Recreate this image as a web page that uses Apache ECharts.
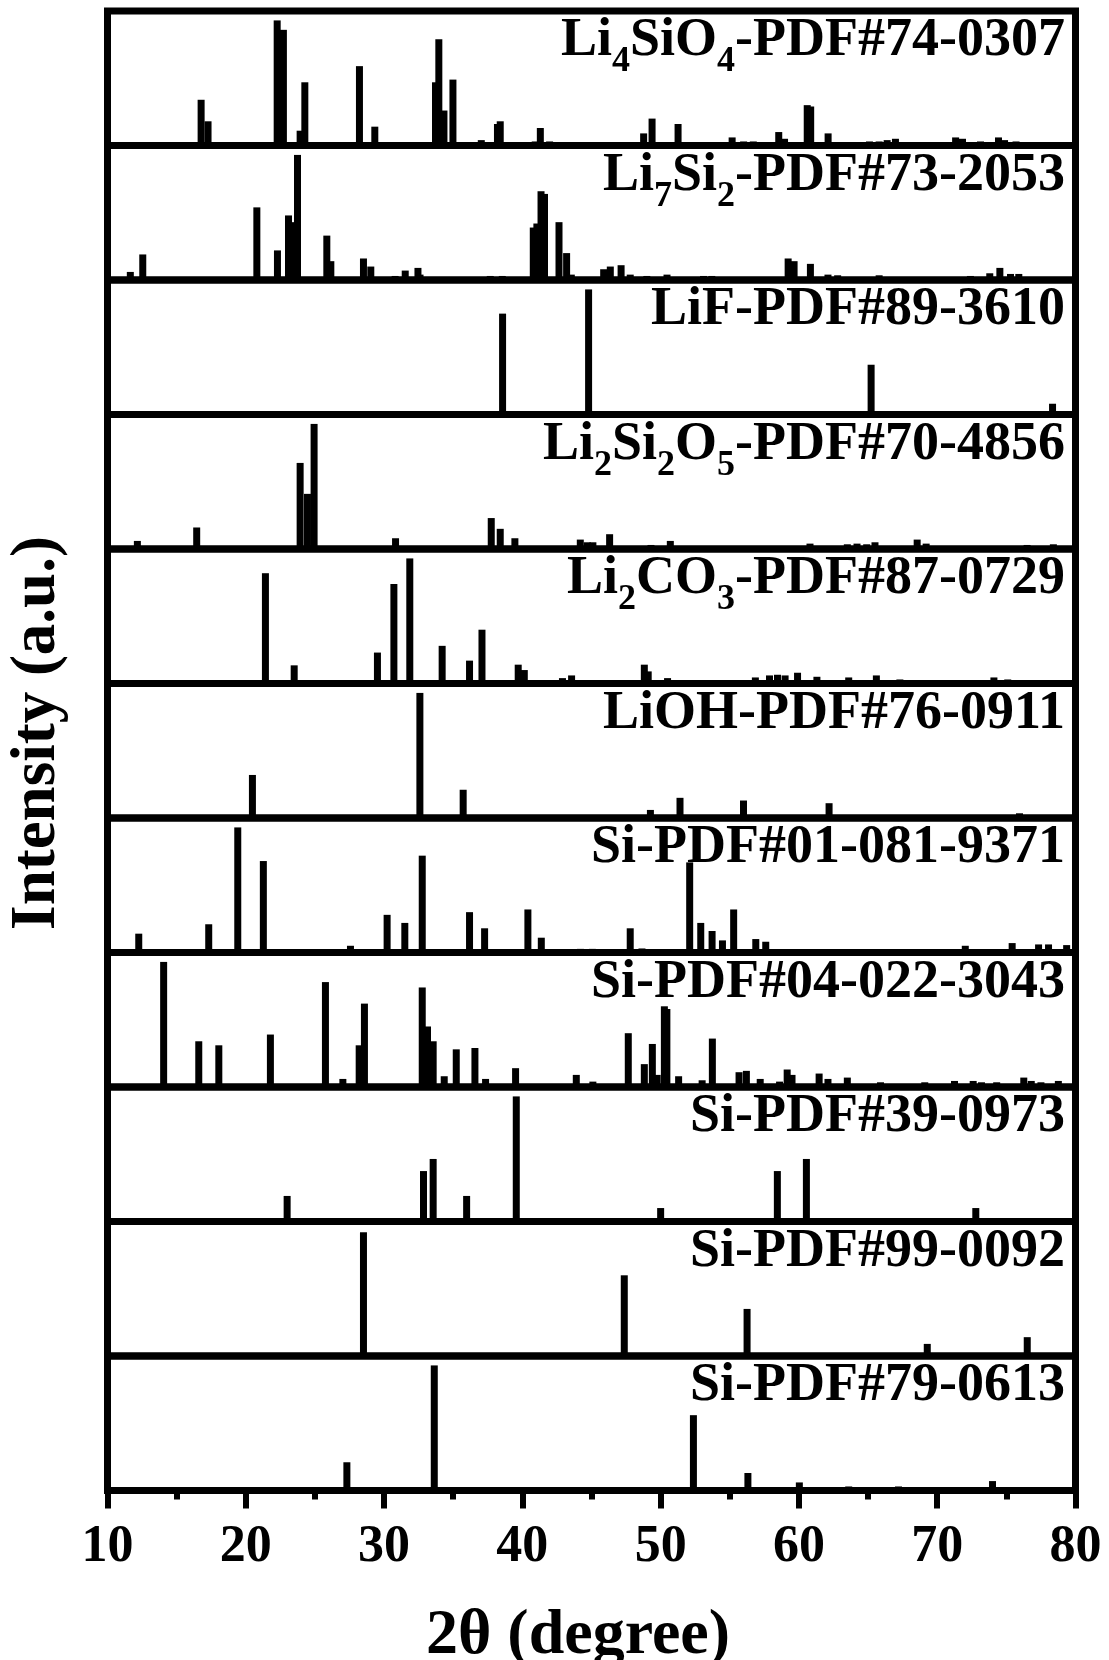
<!DOCTYPE html>
<html>
<head>
<meta charset="utf-8">
<script src="https://cdn.jsdelivr.net/npm/echarts@6/dist/echarts.min.js"></script>
<style>
  html, body { margin: 0; padding: 0; background: #fff; }
  #chart { width: 1109px; height: 1660px; }
</style>
</head>
<body>
<div id="chart"></div>
<script>
// stick patterns, [2theta, relative intensity], top panel first
const li4sio4 = [[16.77,34],[17.27,18],[22.27,93],[22.72,86],[23.93,11],[24.27,47],[28.22,59],[29.33,14],
  [33.72,47],[33.96,79],[34.33,26],[34.98,49],[37.03,4],[38.2,16],[38.4,18],[40.93,3],[41.3,13],[41.97,3],
  [48.77,9],[49.38,20],[51.26,16],[54.0,2],[55.17,6],[56.0,3],[56.7,3],[58.54,10],[58.96,5],[60.6,30],
  [60.85,29],[62.11,9],[63.5,2.5],[64.5,2.5],[65.1,3],[65.8,3],[66.38,4],[66.98,5],[71.33,6],[71.83,5],
  [73.13,3],[74.43,6],[74.87,4],[75.7,3],[78.1,2]];
const li7si2 = [[11.65,6],[12.55,19],[20.8,54],[22.29,22],[23.09,48],[23.37,43],[23.74,93],[25.86,33],
  [26.15,14],[28.51,16],[29.04,10],[30.8,3],[31.53,7],[32.45,9],[32.6,4],[35.07,2],[37.68,3],[38.55,3],
  [40.79,39],[41.05,42],[41.35,66],[41.6,64],[42.65,43],[43.2,20],[43.54,4],[45.88,8],[46.36,10],[47.14,11],
  [47.8,4],[49.0,3],[50.46,4],[53.1,3],[53.7,3],[59.22,16],[59.65,14],[60.83,12],[62.1,4],[62.8,3.5],
  [65.8,3.5],[72.4,3],[73.8,5],[74.53,9],[75.3,4.5],[75.9,4.5]];
const lif = [[38.57,75],[44.79,93],[65.22,37],[78.34,8]];
const li2si2o5 = [[12.16,6],[16.45,16],[23.93,64],[24.46,41],[24.94,93],[30.6,2],[30.83,8],[37.75,23],
  [38.4,15],[39.46,8],[44.19,7],[44.7,5],[45.1,5],[46.31,11],[49.3,3],[50.7,6],[60.8,4],[63.5,3.5],
  [64.2,4],[64.9,3.5],[65.5,5],[68.55,7],[69.2,4],[76.5,3],[78.4,3.5]];
const li2co3 = [[21.42,82],[23.5,13.5],[29.52,23],[30.71,74],[31.86,93],[34.2,28],[36.18,17],[37.08,40],
  [39.7,14],[40.14,10],[42.9,4],[43.56,6],[48.82,14],[49.1,9],[50.5,4],[56.85,4.5],[57.87,6],[58.45,6.5],
  [59.0,6],[59.9,8],[61.3,5],[63.6,4.5],[65.6,6],[67.3,3],[74.1,4.5],[75.1,3]];
const lioh = [[20.48,32],[32.59,93],[35.72,21],[49.26,6],[51.4,15],[55.99,13],[62.18,11],[75.95,3.5]];
const si9371 = [[12.26,14],[17.32,21],[19.42,93],[21.27,68],[27.57,5],[30.22,28],[31.5,22],[32.76,72],
  [35.15,2.5],[36.18,30],[37.27,18],[40.4,32],[41.37,11],[44.2,2.7],[45.06,2.7],[47.8,18],[48.65,3],
  [52.1,67],[52.9,22],[53.72,16],[54.47,9],[55.28,32],[56.88,10],[57.6,8],[67.2,2.5],[72.03,5],[72.6,2],
  [75.42,7],[77.33,6],[78.05,6],[79.36,5.5]];
const si3043 = [[14.06,93],[16.6,34],[18.05,31],[21.78,39],[25.76,78],[27.02,6],[28.2,31],[28.58,62],
  [32.76,74],[33.14,45],[33.55,34],[34.35,8],[35.22,28],[36.57,29],[37.34,6],[39.51,14],[39.9,2],[43.9,9],
  [45.1,4],[47.66,40],[48.82,17],[49.4,32],[49.75,9],[50.27,60],[50.45,58],[51.3,8],[53.0,5],[53.74,36],
  [55.67,11],[56.2,12],[57.2,6],[58.6,4],[59.15,13],[59.5,9],[61.46,10],[62.1,6],[63.5,7],[65.9,3.5],
  [69.1,3.5],[71.25,4.5],[72.6,4.5],[73.2,3.5],[74.3,3.5],[76.26,7],[76.8,4.5],[77.5,3.5],[78.76,4.5]];
const si0973 = [[22.99,19],[32.85,37.5],[33.55,46.5],[35.97,19],[39.56,93],[50.0,10],[58.44,37.5],
  [60.54,46.5],[72.79,10]];
const si0092 = [[28.51,92],[47.37,60],[56.25,35],[69.28,9],[76.51,14]];
const si0613 = [[27.31,21],[33.63,93],[52.37,56],[56.31,13],[60.03,6],[63.6,3],[67.2,3],[74.0,7]];

const patterns = [li4sio4, li7si2, lif, li2si2o5, li2co3, lioh, si9371, si3043, si0973, si0092, si0613];
const labels = [
  'Li{s|4}SiO{s|4}-PDF#74-0307',
  'Li{s|7}Si{s|2}-PDF#73-2053',
  'LiF-PDF#89-3610',
  'Li{s|2}Si{s|2}O{s|5}-PDF#70-4856',
  'Li{s|2}CO{s|3}-PDF#87-0729',
  'LiOH-PDF#76-0911',
  'Si-PDF#01-081-9371',
  'Si-PDF#04-022-3043',
  'Si-PDF#39-0973',
  'Si-PDF#99-0092',
  'Si-PDF#79-0613'
];
const xMin = 10, xMax = 80, xStep = 10;
const xName = '2θ (degree)';
const yName = 'Intensity (a.u.)';

class StickStack {
  constructor(opt) {
    this.init(opt)
    this.render()
  }

  init(opt) {
    this.dom = document.querySelector(opt.el)
    this.chart = echarts.init(this.dom, null, {renderer: 'canvas'})
    this.left = 107.5
    this.width = 968
    this.top = 11
    this.rowH = 134.5
    this.serif = '"Liberation Serif", "Times New Roman", serif'
  }

  buildOption() {
    let n = patterns.length
    let last = n - 1
    let grid = [], xAxis = [], yAxis = [], series = [], graphic = []
    for (let i = 0; i < n; i++) {
      let top = this.top + i * this.rowH
      grid.push({
        left: this.left, width: this.width, top: top, height: this.rowH,
        show: true, borderColor: '#000', borderWidth: 7, backgroundColor: 'transparent'
      })
      xAxis.push({
        gridIndex: i, type: 'value', min: xMin, max: xMax, interval: xStep,
        axisLine: {show: false},
        splitLine: {show: false},
        axisTick: {show: i === last, length: 18, lineStyle: {color: '#000', width: 6}},
        minorTick: {show: i === last, splitNumber: 2, length: 9, lineStyle: {color: '#000', width: 6}},
        axisLabel: {
          show: i === last, margin: 31, color: '#000',
          fontFamily: this.serif, fontWeight: 'bold', fontSize: 52
        }
      })
      yAxis.push({gridIndex: i, type: 'value', min: 0, max: 100, show: false})
      series.push({
        type: 'bar', xAxisIndex: i, yAxisIndex: i, data: patterns[i],
        barWidth: 7, itemStyle: {color: '#000'}, silent: true
      })
      graphic.push({
        type: 'text', x: 1065, y: top + 30.5,
        style: {
          text: labels[i], fill: '#000',
          font: 'bold 54px ' + this.serif, lineHeight: 62,
          textAlign: 'right', align: 'right',
          textVerticalAlign: 'middle', verticalAlign: 'middle',
          rich: {
            s: {font: 'bold 36px ' + this.serif, fill: '#000', lineHeight: 10, padding: [41, 0, 0, 0]}
          }
        }
      })
    }
    graphic.push({
      type: 'text', x: 578, y: 1636,
      style: {
        text: xName, fill: '#000', font: 'bold 64px ' + this.serif,
        textAlign: 'center', align: 'center', textVerticalAlign: 'middle', verticalAlign: 'middle'
      }
    })
    graphic.push({
      type: 'text', x: 38, y: 733, rotation: Math.PI / 2,
      style: {
        text: yName, fill: '#000', font: 'bold 63px ' + this.serif,
        textAlign: 'center', align: 'center', textVerticalAlign: 'middle', verticalAlign: 'middle'
      }
    })
    return {
      backgroundColor: '#fff',
      animation: false,
      grid, xAxis, yAxis, series, graphic
    }
  }

  render() {
    this.chart.setOption(this.buildOption())
  }
}

new StickStack({el: '#chart'})
</script>
</body>
</html>
